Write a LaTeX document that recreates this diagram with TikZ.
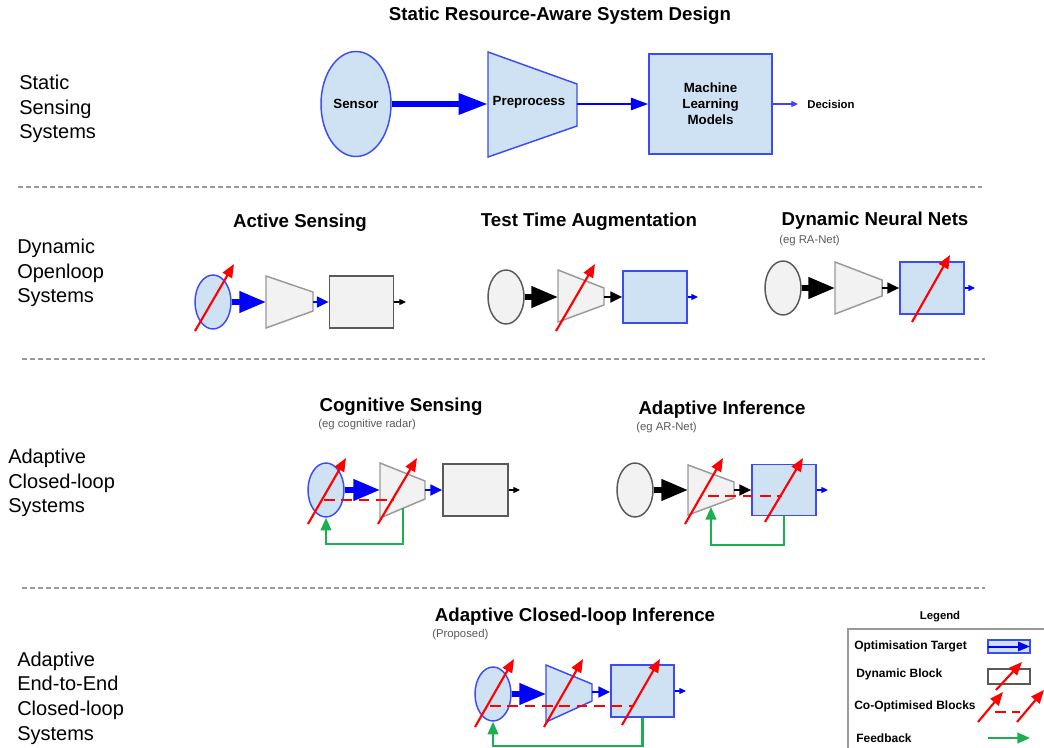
\documentclass[tikz,border=0pt]{standalone}
\usepackage{fontspec}
\setmainfont{Liberation Sans}
\usetikzlibrary{arrows.meta,shapes.geometric,calc}
\definecolor{lb}{HTML}{CFE2F3}
\definecolor{bs}{HTML}{3C4BF5}
\definecolor{lg}{HTML}{F2F2F2}
\definecolor{dg}{HTML}{595959}
\definecolor{mg}{HTML}{999999}
\definecolor{gr}{HTML}{1DAE50}
\definecolor{rd}{HTML}{FF0000}
\definecolor{ab}{HTML}{0000FF}
\tikzset{
  bluefill/.style={fill=lb,draw=bs,line width=1.1pt},
  grayfill/.style={fill=lg,draw=dg,line width=1.1pt},
  trapgray/.style={fill=lg,draw=mg,line width=1.1pt},
  ellsmall/.style={ellipse,inner sep=0pt,minimum width=27pt,minimum height=40.5pt},
  boxsmall/.style={rectangle,inner sep=0pt,minimum width=48pt,minimum height=39pt},
  bigarr/.style={-{Triangle[length=20pt,width=15.5pt]},line width=4pt,draw=ab},
  bigblk/.style={-{Triangle[length=20pt,width=15.5pt]},line width=4pt,draw=black},
  medarr/.style={-{Triangle[length=13pt,width=9pt]},line width=2.2pt,draw=ab},
  smallarr/.style={-{Triangle[length=9pt,width=8pt]},line width=2pt},
  outarr/.style={-{Triangle[length=5pt,width=4.5pt]},line width=0.9pt},
  redarr/.style={-{Triangle[length=10pt,width=8pt]},line width=1.6pt,draw=rd},
  reddash/.style={line width=1.6pt,draw=rd,dash pattern=on 8pt off 5pt},
  fb/.style={-{Triangle[length=9.5pt,width=8pt]},line width=1.6pt,draw=gr},
  divider/.style={draw=mg,line width=0.8pt,dash pattern=on 3.5pt off 2.5pt},
  rowlabel/.style={anchor=west,align=left,inner sep=0pt,font=\fontsize{15}{18.5}\selectfont},
  ttl/.style={inner sep=0pt,font=\bfseries\fontsize{14}{17}\selectfont},
  sub/.style={anchor=west,inner sep=0pt,font=\fontsize{8.5}{10}\selectfont,text=dg},
  lgtext/.style={anchor=west,inner sep=0pt,font=\bfseries\fontsize{9}{11}\selectfont},
}
\begin{document}
\begin{tikzpicture}[x=0.75pt,y=-0.75pt]
\useasboundingbox (0,0) rectangle (1044,748);
\clip (0,0) rectangle (1044,748);

% ---------- title and row labels
\node[ttl] (title) at (560,16) {Static Resource-Aware System Design};
\node[rowlabel] (l1) at (19,109) {Static\\Sensing\\Systems};
\node[rowlabel] (l2) at (17,273) {Dynamic\\Openloop\\Systems};
\node[rowlabel] (l3) at (8,483) {Adaptive\\Closed-loop\\Systems};
\node[rowlabel] (l4) at (17,698) {Adaptive\\End-to-End\\Closed-loop\\Systems};

% ---------- dividers
\draw[divider] (18,187) -- (982,187);
\draw[divider] (22,359) -- (985,359);
\draw[divider] (22,588) -- (985,588);

% ---------- row 1
\node[bluefill,ellipse,inner sep=0pt,minimum width=52.5pt,minimum height=78.75pt,
      font=\bfseries\fontsize{10}{12}\selectfont] (sen) at (356,104) {Sensor};
\draw[bluefill] (488,52) -- (577,84) -- (577,126) -- (488,157) -- cycle;
\coordinate (pw) at (488,104);
\coordinate (pe) at (577,104);
\node[inner sep=0pt,font=\bfseries\fontsize{10}{12}\selectfont] (pre) at (529,102) {Preprocess};
\node[bluefill,rectangle,inner sep=0pt,minimum width=92.25pt,minimum height=75pt,align=center,
      font=\bfseries\fontsize{10}{12}\selectfont] (ml) at (710.5,104) {Machine\\Learning\\Models};
\node[anchor=west,inner sep=0pt,outer sep=7pt,font=\bfseries\fontsize{8.5}{10}\selectfont] (dec) at (798,104) {Decision};
\draw[bigarr,line width=4.6pt,-{Triangle[length=22pt,width=15pt]}] (sen.east) -- (pw);
\draw[medarr] (pe) -- (ml.west);
\draw[outarr,draw=ab!75] (ml.east) -- (dec.west);

% ---------- row 2 : Active Sensing
\node[ttl] (t21) at (300,223) {Active Sensing};
\node[bluefill,ellsmall] (a1) at (213,302) {};
\draw[trapgray] (266,276) -- (313,292) -- (313,311) -- (266,328) -- cycle;
\coordinate (a2w) at (266,302);
\coordinate (a2e) at (313,302);
\node[grayfill,boxsmall] (a3) at (361.5,302) {};
\coordinate (a4) at (406,302);
\draw[bigarr] (a1.east) -- (a2w);
\draw[smallarr,draw=ab] (a2e) -- (a3.west);
\draw[outarr] (a3.east) -- (a4);
\draw[redarr] (195,331) -- (234,264);

% ---------- row 2 : Test Time Augmentation
\node[ttl] (t22) at (589,222) {Test Time Augmentation};
\node[grayfill,ellsmall] (b1) at (506,297) {};
\draw[trapgray] (558,270) -- (604,288) -- (604,305) -- (558,322) -- cycle;
\coordinate (b2w) at (558,297);
\coordinate (b2e) at (604,297);
\node[bluefill,boxsmall] (b3) at (655,297) {};
\coordinate (b4) at (698,297);
\draw[bigblk] (b1.east) -- (b2w);
\draw[smallarr,draw=black] (b2e) -- (b3.west);
\draw[outarr,draw=ab] (b3.east) -- (b4);
\draw[redarr] (556,331) -- (595,264);

% ---------- row 2 : Dynamic Neural Nets
\node[ttl] (t23) at (875,221) {Dynamic Neural Nets};
\node[sub] (s23) at (779,241) {(eg RA-Net)};
\node[grayfill,ellsmall] (c1) at (783,288) {};
\draw[trapgray] (835,262) -- (882,280) -- (882,296) -- (835,314) -- cycle;
\coordinate (c2w) at (835,288);
\coordinate (c2e) at (882,288);
\node[bluefill,boxsmall] (c3) at (932,288) {};
\coordinate (c4) at (975,288);
\draw[bigblk] (c1.east) -- (c2w);
\draw[smallarr,draw=black] (c2e) -- (c3.west);
\draw[outarr,draw=ab] (c3.east) -- (c4);
\draw[redarr] (912,322) -- (950,255);

% ---------- row 3 : Cognitive Sensing
\node[ttl] (t31) at (401,407) {Cognitive Sensing};
\node[sub] (s31) at (318,425) {(eg cognitive radar)};
\node[bluefill,ellsmall] (d1) at (326,490) {};
\draw[trapgray] (380,463) -- (425,481) -- (425,499) -- (380,518) -- cycle;
\coordinate (d2w) at (380,490);
\coordinate (d2e) at (425,490);
\coordinate (d2b) at (403,508);
\node[grayfill,boxsmall,minimum width=48.75pt] (d3) at (475.5,490) {};
\coordinate (d4) at (520,490);
\draw[bigarr] (d1.east) -- (d2w);
\draw[smallarr,draw=ab] (d2e) -- (d3.west);
\draw[outarr] (d3.east) -- (d4);
\draw[reddash] (324,500) -- (394,500);
\draw[redarr] (308,524) -- (346,458);
\draw[redarr] (378,524) -- (417,458);
\draw[fb] (d2b) -- ++(0,36) -| (d1.south);

% ---------- row 3 : Adaptive Inference
\node[ttl] (t32) at (722,410) {Adaptive Inference};
\node[sub] (s32) at (636,428) {(eg AR-Net)};
\node[grayfill,ellsmall] (e1) at (635,490) {};
\draw[trapgray] (688,465) -- (734,482) -- (734,498) -- (688,515) -- cycle;
\coordinate (e2w) at (688,490);
\coordinate (e2e) at (734,490);
\coordinate (e2b) at (711,507);
\node[bluefill,boxsmall,minimum height=38.25pt] (e3) at (784,490) {};
\coordinate (e4) at (828,490);
\draw[bigblk] (e1.east) -- (e2w);
\draw[smallarr,draw=black] (e2e) -- (e3.west);
\draw[outarr,draw=ab] (e3.east) -- (e4);
\draw[reddash] (708,496) -- (782,496);
\draw[redarr] (685,524) -- (723,458);
\draw[redarr] (765,522) -- (803,458);
\draw[fb] (e3.south) -- ++(0,29) -| (e2b);

% ---------- row 4 : Adaptive Closed-loop Inference
\node[ttl] (t41) at (575,617) {Adaptive Closed-loop Inference};
\node[sub] (s41) at (432,635) {(Proposed)};
\node[bluefill,ellsmall] (f1) at (493,694) {};
\draw[bluefill] (546,665) -- (592,684) -- (592,701) -- (546,722) -- cycle;
\coordinate (f2w) at (546,694);
\coordinate (f2e) at (592,692);
\node[bluefill,boxsmall,minimum width=47.25pt] (f3) at (642.5,691) {};
\coordinate (f4) at (686,691);
\draw[bigarr] (f1.east) -- (f2w);
\draw[smallarr,draw=ab] (f2e) -- (f2e -| f3.west);
\draw[outarr,draw=ab] (f3.east) -- (f4);
\draw[reddash] (490,706) -- (633,706);
\draw[redarr] (475,727) -- (514,659);
\draw[redarr] (544,727) -- (583,659);
\draw[redarr] (622,725) -- (660,659);
\draw[fb] (f3.south) -- ++(0,28) -| (f1.south);

% ---------- legend
\node[inner sep=0pt,font=\bfseries\fontsize{8.5}{10}\selectfont] (lgt) at (940,617) {Legend};
\draw[draw=mg,line width=0.8pt] (848,629) rectangle (1060,770);
\node[lgtext] (g1) at (854,646) {Optimisation Target};
\node[lgtext] (g2) at (856,674) {Dynamic Block};
\node[lgtext] (g3) at (854,706) {Co-Optimised Blocks};
\node[lgtext] (g4) at (856,738) {Feedback};
\node[bluefill,rectangle,inner sep=0pt,minimum width=31.5pt,minimum height=9.5pt,outer sep=0pt] (k1) at (1009,646.5) {};
\draw[medarr,line width=1.5pt,-{Triangle[length=9pt,width=7pt]}] (k1.west) -- (k1.east);
\node[draw=dg,fill=white,line width=1.1pt,rectangle,inner sep=0pt,minimum width=31.5pt,minimum height=11pt] (k2) at (1009,676.5) {};
\draw[redarr] (996,690) -- (1022,662);
\draw[reddash] (995,712) -- (1020,712);
\draw[redarr] (978,722) -- (1003,692);
\draw[redarr] (1017,722) -- (1044,690);
\coordinate (k4a) at (988,738);
\coordinate (k4b) at (1030,738);
\draw[fb] (k4a) -- (k4b);
\end{tikzpicture}
\end{document}
